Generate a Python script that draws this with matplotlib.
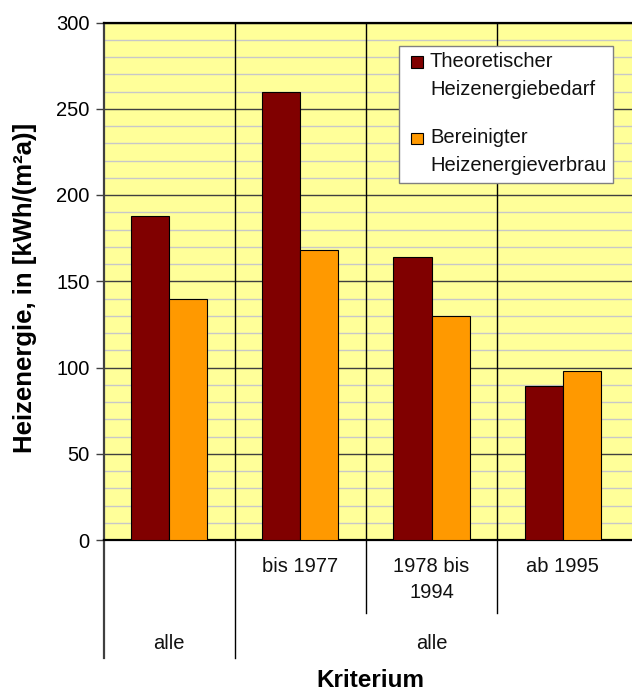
import matplotlib
matplotlib.use('Agg')
import matplotlib.pyplot as plt
from matplotlib.patches import Rectangle
import matplotlib.transforms as mtransforms
import numpy as np

# ---- data ----
categories = ["", "bis 1977", "1978 bis\n1994", "ab 1995"]
groups = ["alle", "alle"]
group_spans = [1, 3]
theoretisch = [188, 260, 164, 89]
bereinigt = [140, 168, 130, 98]
series_names = ["Theoretischer\nHeizenergiebedarf", "Bereinigter\nHeizenergieverbrau"]
series_colors = ['#800000', '#FF9900']
yticks = [0, 50, 100, 150, 200, 250, 300]
ylabel = "Heizenergie, in [kWh/(m²a)]"
xlabel = "Kriterium"

plt.rcParams['font.family'] = ['Liberation Sans', 'DejaVu Sans']

W, H = 632, 693
fig = plt.figure(figsize=(W / 100, H / 100), dpi=100)
x0_px, y_top_px, y_bot_px = 103.5, 22.5, 540
cat_w_px = 131.2
ax = fig.add_axes([x0_px / W, 1 - y_bot_px / H, 1 - x0_px / W, (y_bot_px - y_top_px) / H])
ax.set_facecolor('#FFFF99')

x = np.arange(len(categories))
bw = 0.29
ax.bar(x - bw / 2, theoretisch, bw, color=series_colors[0], edgecolor='black', linewidth=0.8, zorder=3)
ax.bar(x + bw / 2, bereinigt, bw, color=series_colors[1], edgecolor='black', linewidth=0.8, zorder=3)

ax.set_ylim(0, 300)
ax.set_xlim(-0.5, -0.5 + (W - x0_px) / cat_w_px)
ax.set_yticks(yticks)
ax.set_yticks(np.arange(0, 301, 10), minor=True)
ax.set_xticks([])
ax.set_axisbelow(True)
ax.yaxis.grid(True, which='minor', color='#C8C8C8', linewidth=1.0, zorder=0)
ax.yaxis.grid(True, which='major', color='#404040', linewidth=1.0, zorder=1)
ax.tick_params(axis='y', which='minor', length=0)
ax.tick_params(axis='y', which='major', length=6, width=1, color='#404040',
               direction='out', pad=4, labelsize=14.5)
for xs in [0.5, 1.5, 2.5]:
    ax.axvline(xs, color='black', linewidth=1.0, zorder=2)

ax.spines['right'].set_visible(False)
ax.spines['left'].set_color('#404040')
ax.spines['left'].set_linewidth(1.6)
ax.spines['top'].set_color('black')
ax.spines['top'].set_linewidth(1.6)
ax.spines['bottom'].set_color('black')
ax.spines['bottom'].set_linewidth(1.6)

# ---- multi-level category axis ----
trans = mtransforms.blended_transform_factory(ax.transData, fig.transFigure)
def fy(px):
    return 1 - px / H
def fx(px):
    return px / W

for i, lab in enumerate(categories):
    if lab:
        ax.text(i, fy(557), lab, transform=trans, ha='center', va='top',
                fontsize=14.5, linespacing=1.45, color='#111111')
for xs in [1.5, 2.5]:
    ax.plot([xs, xs], [fy(540), fy(613)], transform=trans, color='black',
            linewidth=1.0, clip_on=False)
start = 0
for g, span in zip(groups, group_spans):
    center = start + (span - 1) / 2
    ax.text(center, fy(649), g, transform=trans, ha='center', va='baseline',
            fontsize=14.5, color='#111111')
    ax.plot([start - 0.5, start - 0.5], [fy(540), fy(658)], transform=trans,
            color='black' if start > 0 else '#404040',
            linewidth=1.0 if start > 0 else 1.6, clip_on=False)
    start += span

fig.text(fx(370), fy(687), xlabel, ha='center', va='baseline', fontsize=17.5,
         fontweight='bold')
fig.text(fx(25), fy(288), ylabel, ha='center', va='center', rotation=90,
         fontsize=18.5, fontweight='bold')

# ---- legend (drawn manually, Excel style) ----
box_l, box_t, box_r, box_b = 399, 46, 613, 183
fig.patches.append(Rectangle((fx(box_l), fy(box_b)), fx(box_r - box_l), (box_b - box_t) / H,
                             transform=fig.transFigure, facecolor='white',
                             edgecolor='#808080', linewidth=1.0, zorder=5))
entry_baselines = [67, 143]
line_step = 28
for name, col, base in zip(series_names, series_colors, entry_baselines):
    fig.patches.append(Rectangle((fx(411), fy(base + 1)), fx(11.5), 11.5 / H,
                                 transform=fig.transFigure, facecolor=col,
                                 edgecolor='black', linewidth=0.8, zorder=6))
    for k, line in enumerate(name.split('\n')):
        fig.text(fx(430), fy(base + k * line_step), line, ha='left', va='baseline',
                 fontsize=14.5, color='#111111', zorder=6)

fig.savefig('out.png', dpi=100)
